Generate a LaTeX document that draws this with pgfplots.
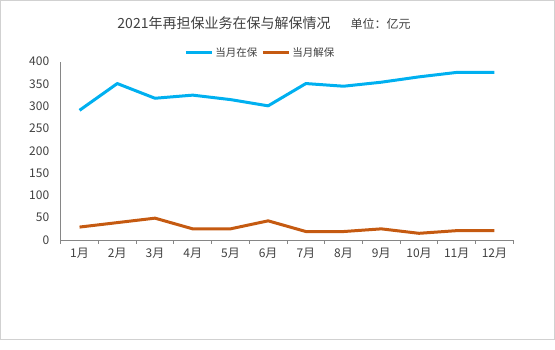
\documentclass[border=0pt]{standalone}
\usepackage{pgfplots}
\pgfplotsset{compat=1.18}
\usepackage{fontspec}
\setmainfont{Noto Sans CJK SC}
\definecolor{cblue}{HTML}{00B0F0}
\definecolor{corange}{HTML}{C55A11}
\definecolor{axgray}{HTML}{868686}
\definecolor{txtgray}{HTML}{404040}
\begin{document}
\begin{tikzpicture}[x=1pt,y=1pt]
\path[use as bounding box] (0,0) rectangle (555,349);
\draw[color=black!18, line width=1.2pt] (0.6,9.5) rectangle (554.4,348.4);
\node[font=\fontsize{14}{16}\selectfont, text=txtgray, anchor=base] at (224,320) {2021年再担保业务在保与解保情况};
\node[font=\fontsize{12}{14}\selectfont, text=txtgray, anchor=base west] at (347,320) {单位：亿元};
\begin{axis}[
  at={(60.7pt,109pt)}, anchor=south west,
  scale only axis, width=452.6pt, height=178.3pt,
  xmin=0.5, xmax=12.5, ymin=0, ymax=400,
  axis lines*=left,
  axis line style={color=axgray, line width=0.8pt},
  xtick={0.5,1.5,...,12.5},
  x tick label as interval,
  xticklabels={1月,2月,3月,4月,5月,6月,7月,8月,9月,10月,11月,12月},
  xtick style={color=axgray, line width=0.8pt},
  tick align=outside,
  major tick length=3.5pt,
  ytick={0,50,...,400},
  ytick style={draw=none},
  tick label style={font=\fontsize{12}{14}\selectfont, text=txtgray},
  /pgf/number format/assume math mode=true,
  yticklabel style={xshift=-4.5pt},
  xticklabel style={yshift=-1pt},
  legend columns=2,
  legend style={at={(0.441,1.05)}, anchor=center, draw=none, fill=none,
    font=\fontsize{10.5}{12}\selectfont, text=txtgray,
    /tikz/every even column/.append style={column sep=2pt},
    inner sep=0pt},
  legend image code/.code={\draw[#1] (0pt,0pt) -- (26pt,0pt);},
  clip=false,
]
\addplot[color=cblue, line width=3pt, line join=round] coordinates {
(1,291) (2,351) (3,318) (4,325) (5,315) (6,301) (7,351) (8,345) (9,354) (10,366) (11,376) (12,376)};
\addlegendentry{当月在保}
\addplot[color=corange, line width=3pt, line join=round] coordinates {
(1,29) (2,39) (3,49) (4,25) (5,25) (6,43) (7,19) (8,19) (9,25) (10,15) (11,21) (12,21)};
\addlegendentry{当月解保}
\end{axis}
\end{tikzpicture}
\end{document}
